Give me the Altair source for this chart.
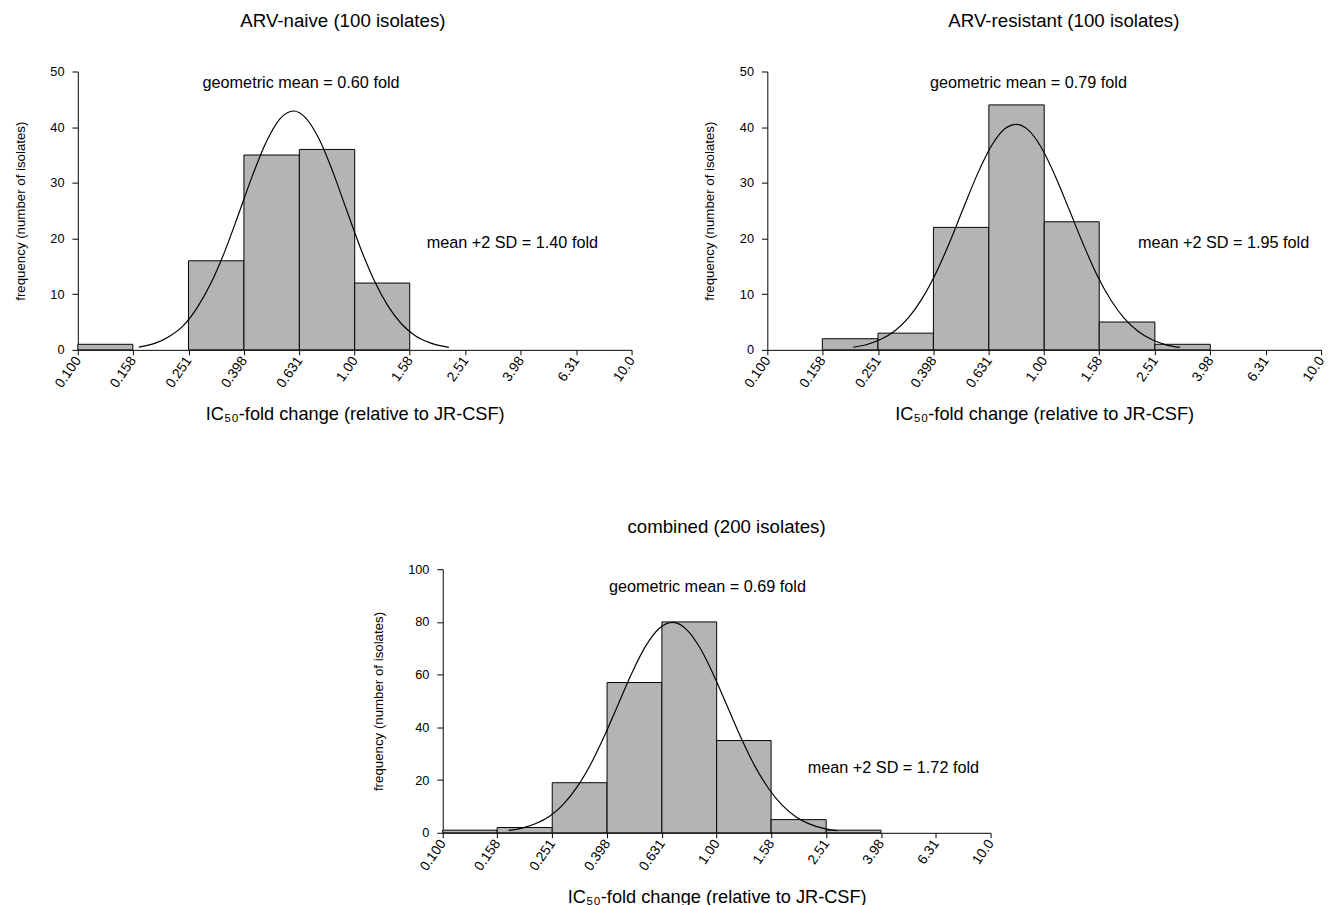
import altair as alt
import pandas as pd

# ---- data ----
edges = [0.100, 0.158, 0.251, 0.398, 0.631, 1.00, 1.58, 2.51, 3.98, 6.31, 10.0]

naive_counts = [1, 0, 16, 35, 36, 12, 0, 0, 0, 0]
resistant_counts = [0, 2, 3, 22, 44, 23, 5, 1, 0, 0]
combined_counts = [1, 2, 19, 57, 80, 35, 5, 1, 0, 0]

# fitted curves, read at positions given as log10(fold)
naive_curve_logx = [-0.78, -0.72, -0.67, -0.62, -0.57, -0.52, -0.47, -0.42, -0.37, -0.32, -0.27, -0.22,
                    -0.18, -0.13, -0.08, -0.03, 0.02, 0.07, 0.12, 0.17, 0.22, 0.27, 0.34]
naive_curve_y = [0.5, 1.2, 2.4, 4.3, 7.5, 11.9, 17.6, 24.3, 31.2, 37.3, 41.5, 42.9,
                 41.8, 38.0, 32.1, 25.2, 18.4, 12.5, 7.9, 4.6, 2.5, 1.3, 0.45]

resistant_curve_logx = [-0.69, -0.64, -0.59, -0.54, -0.49, -0.44, -0.39, -0.34, -0.29, -0.24, -0.19, -0.14,
                        -0.10, -0.06, -0.01, 0.04, 0.09, 0.14, 0.19, 0.24, 0.29, 0.34, 0.39, 0.44, 0.49]
resistant_curve_y = [0.47, 0.97, 1.9, 3.4, 5.8, 9.3, 13.9, 19.5, 25.7, 31.7, 36.7, 39.8,
                     40.5, 39.6, 36.3, 31.2, 25.2, 19.1, 13.5, 9.0, 5.6, 3.3, 1.8, 0.9, 0.44]

combined_curve_logx = [-0.76, -0.71, -0.66, -0.61, -0.56, -0.51, -0.46, -0.41, -0.36, -0.31, -0.26, -0.21,
                       -0.16, -0.11, -0.06, -0.01, 0.04, 0.09, 0.14, 0.19, 0.24, 0.29, 0.34, 0.39, 0.44]
combined_curve_y = [0.9, 1.8, 3.5, 6.3, 10.8, 17.3, 26.0, 36.7, 48.6, 60.5, 70.7, 77.5,
                    79.8, 77.1, 70.0, 59.6, 47.7, 35.8, 25.2, 16.7, 10.4, 6.0, 3.3, 1.7, 0.8]

panel_titles = ["ARV-naive (100 isolates)", "ARV-resistant (100 isolates)", "combined (200 isolates)"]
mean_texts = ["geometric mean = 0.60 fold", "geometric mean = 0.79 fold", "geometric mean = 0.69 fold"]
sd_texts = ["mean +2 SD = 1.40 fold", "mean +2 SD = 1.95 fold", "mean +2 SD = 1.72 fold"]
# annotation anchors (fold, count)
mean_pos = [(0.64, 48.0), (0.877, 48.0), (0.925, 93.3)]
sd_pos = [(1.82, 19.1), (2.18, 19.1), (2.15, 24.6)]

x_title = "IC\u2085\u2080-fold change (relative to JR-CSF)"
y_title = "frequency (number of isolates)"

SANS = "Liberation Sans, Arial, sans-serif"


def panel(i, counts, clogx, cy, ymax, ystep, w, h, title_offset, title_dx):
    bars = pd.DataFrame({"lo": edges[:-1], "hi": edges[1:], "count": counts})
    bars = bars[bars["count"] > 0]
    curve = pd.DataFrame({"x": [10 ** v for v in clogx], "y": cy})
    xs = alt.Scale(type="log", domain=[0.1, 10], nice=False)
    ys = alt.Scale(domain=[0, ymax], nice=False)
    xaxis = alt.Axis(values=edges, format=".3r", labelAngle=305, title=x_title,
                     titleFont=SANS, titleFontSize=18.5, titleFontWeight="normal",
                     labelFont=SANS, labelFontSize=14, titlePadding=15, grid=False,
                     labelPadding=3, tickSize=5)
    yaxis = alt.Axis(values=list(range(0, ymax + 1, ystep)), title=y_title,
                     titleFont=SANS, titleFontSize=13.5, titleFontWeight="normal",
                     labelFont=SANS, labelFontSize=13, titlePadding=23, grid=False,
                     labelPadding=8, tickSize=6)
    b = alt.Chart(bars).mark_rect(fill="#b4b4b4", stroke="black", strokeWidth=1).encode(
        x=alt.X("lo:Q", scale=xs, axis=xaxis),
        x2="hi:Q",
        y=alt.Y("count:Q", scale=ys, axis=yaxis),
        y2=alt.datum(0),
    )
    line = alt.Chart(curve).mark_line(color="black", strokeWidth=1.2, interpolate="monotone").encode(
        x=alt.X("x:Q", scale=xs), y=alt.Y("y:Q", scale=ys))
    ann = pd.DataFrame({
        "t": [mean_texts[i], sd_texts[i]],
        "x": [mean_pos[i][0], sd_pos[i][0]],
        "y": [mean_pos[i][1], sd_pos[i][1]],
    })
    t1 = alt.Chart(ann.iloc[[0]]).mark_text(font=SANS, fontSize=16.5, align="center", baseline="middle",
                                            color="black").encode(
        x=alt.X("x:Q", scale=xs), y=alt.Y("y:Q", scale=ys), text="t:N")
    t2 = alt.Chart(ann.iloc[[1]]).mark_text(font=SANS, fontSize=16.5, align="left", baseline="middle",
                                            color="black").encode(
        x=alt.X("x:Q", scale=xs), y=alt.Y("y:Q", scale=ys), text="t:N")
    return alt.layer(b, line, t1, t2).properties(
        width=w, height=h,
        title=alt.TitleParams(panel_titles[i], font=SANS, fontSize=19, fontWeight="normal",
                              offset=title_offset, anchor="middle", dx=title_dx),
    )


p1 = panel(0, naive_counts, naive_curve_logx, naive_curve_y, 50, 10, 563, 283, 35, -12)
p2 = panel(1, resistant_counts, resistant_curve_logx, resistant_curve_y, 50, 10, 563, 283, 35, 20)
p3 = panel(2, combined_counts, combined_curve_logx, combined_curve_y, 100, 20, 557, 268, 27, 10)

spacer = alt.Chart(pd.DataFrame({"v": [0]})).mark_point(opacity=0).encode(
    x=alt.value(0), y=alt.value(0)).properties(width=298, height=10)

chart = alt.vconcat(
    alt.hconcat(p1, p2, spacing=66),
    alt.hconcat(spacer, p3, spacing=0),
    spacing=96,
    background="white",
    padding={"left": 5, "top": -3, "right": 0, "bottom": 0},
).configure_view(strokeWidth=0, stroke="transparent").configure_axis(
    domainColor="black", tickColor="black", labelColor="black", titleColor="black",
    domainWidth=1, tickWidth=1,
)

chart.save("out.html", embed_options={"renderer": "svg", "actions": False})
